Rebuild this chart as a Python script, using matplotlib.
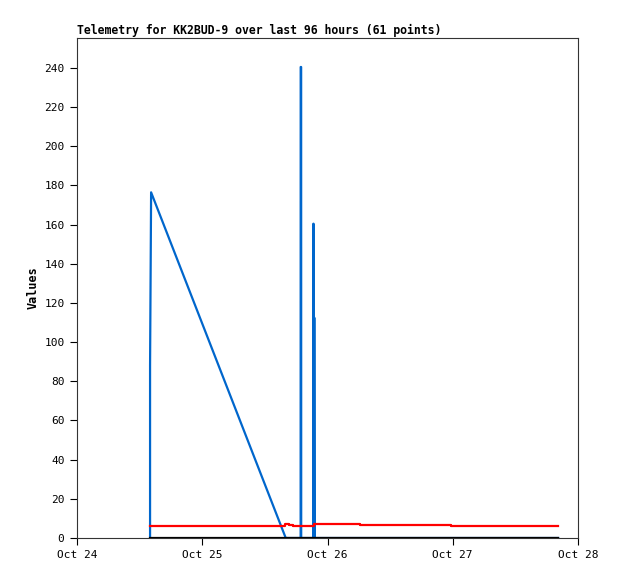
import datetime as dt
import matplotlib
matplotlib.use("Agg")
import matplotlib.pyplot as plt
import matplotlib.dates as mdates

# hours since Oct 24 00:00
blue_hours = [14.0, 14.0, 14.2, 40.0, 42.85, 42.86, 42.95, 42.96, 45.30, 45.31, 45.36, 45.46, 45.47, 45.52, 92.2]
blue_vals = [0, 88, 176.5, 0, 0, 240.5, 240.5, 0, 0, 160.5, 0, 0, 112.5, 0, 0]

red_hours = [14.0, 39.9, 39.9, 40.7, 40.7, 41.4, 41.4, 45.5, 45.5, 54.3, 54.3, 71.6, 71.6, 92.2]
red_vals = [6.1, 6.1, 7.0, 7.0, 6.6, 6.6, 5.9, 5.9, 7.0, 7.0, 6.5, 6.5, 6.1, 6.1]

black_hours = [14.0, 92.2]
black_vals = [0, 0]

title = "Telemetry for KK2BUD-9 over last 96 hours (61 points)"
tick_days = [24, 25, 26, 27, 28]

base = dt.datetime(2023, 10, 24)


def to_dt(hours):
    return [base + dt.timedelta(hours=h) for h in hours]


fig = plt.figure(figsize=(6.18, 5.79), dpi=100)
ax = fig.add_axes([77 / 618, 41 / 579, 501 / 618, 500 / 579])

ax.plot(to_dt(blue_hours), blue_vals, color="#0066cc", lw=1.6)
ax.plot(to_dt(red_hours), red_vals, color="#ff0000", lw=1.6)
ax.plot(to_dt(black_hours), black_vals, color="black", lw=1.6)

ax.set_xlim(base, base + dt.timedelta(days=4))
ax.set_ylim(0, 255.3)
ax.set_yticks(range(0, 241, 20))
ticks = [dt.datetime(2023, 10, d) for d in tick_days]
ax.set_xticks(ticks)
ax.set_xticklabels(["Oct %d" % d for d in tick_days])

mono = "DejaVu Sans Mono"
for lab in ax.get_xticklabels() + ax.get_yticklabels():
    lab.set_family(mono)
    lab.set_fontsize(8)
ax.tick_params(direction="out", length=5, width=0.8, color="black", pad=4)

for s in ax.spines.values():
    s.set_linewidth(0.8)
    s.set_color("#333333")

ax.set_title(title, loc="left", family=mono, fontweight="bold", fontsize=8.3, pad=3)
ax.set_ylabel("Values", family=mono, fontweight="bold", fontsize=8.5, labelpad=3)

fig.savefig("out.png", dpi=100)
